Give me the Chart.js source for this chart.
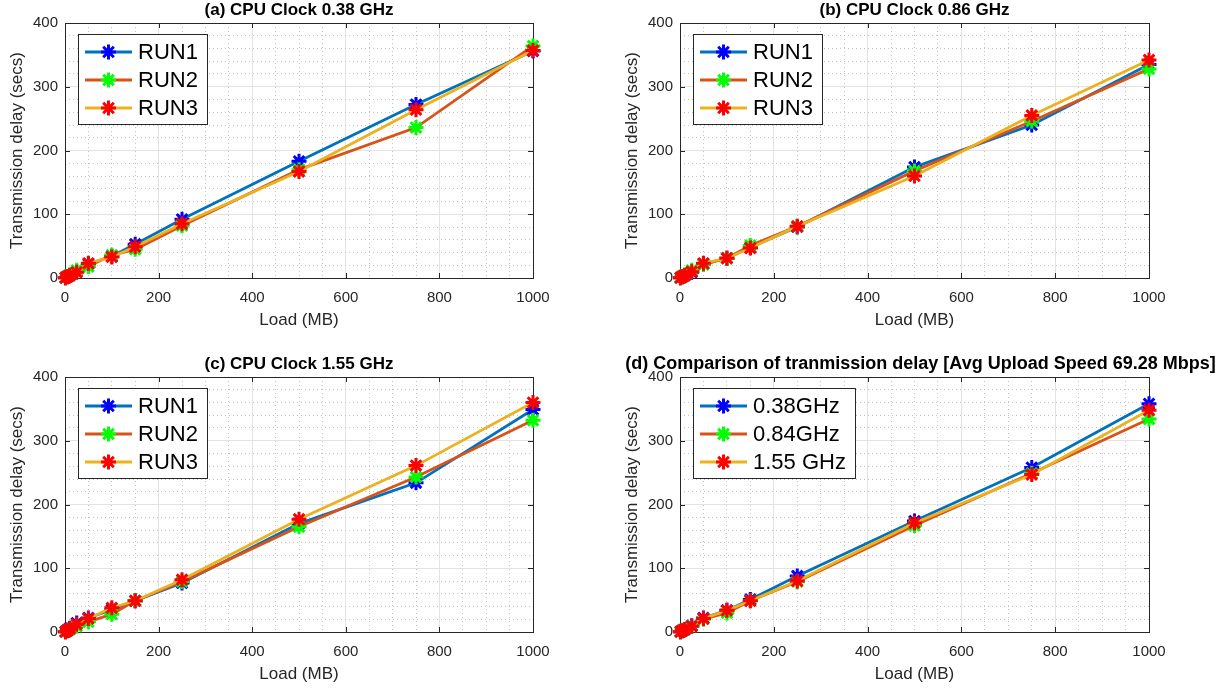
<!DOCTYPE html>
<html>
<head>
<meta charset="utf-8">
<title>Transmission delay</title>
<script src="https://cdn.jsdelivr.net/npm/chart.js@4.4.1/dist/chart.umd.min.js"></script>
<style>
  html, body { margin: 0; padding: 0; background: #fff; }
  body { width: 1227px; height: 688px; position: relative; overflow: hidden; }
  canvas { position: absolute; }
  #chart-a { left: 0;     top: 0; }
  #chart-b { left: 615px; top: 0; }
  #chart-c { left: 0;     top: 354px; }
  #chart-d { left: 615px; top: 354px; }
</style>
</head>
<body>
<canvas id="chart-a" width="612" height="334"></canvas>
<canvas id="chart-b" width="612" height="334"></canvas>
<canvas id="chart-c" width="612" height="334"></canvas>
<canvas id="chart-d" width="612" height="334"></canvas>
<script>
"use strict";

// ── Data ────────────────────────────────────────────────────────────────────
const LOAD_MB = [1, 5, 10, 25, 50, 100, 150, 250, 500, 750, 1000];

const RUN_LABELS   = ["RUN1", "RUN2", "RUN3"];
const CLOCK_LABELS = ["0.38GHz", "0.84GHz", "1.55 GHz"];

// (a) CPU Clock 0.38 GHz
const A_RUN1 = [0.5, 2, 4, 10, 22, 34, 53, 92, 183, 272, 356];
const A_RUN2 = [0.4, 2, 5, 12, 18, 36, 45, 82, 170, 236, 364];
const A_RUN3 = [0.4, 2, 4, 9, 23, 33, 49, 85, 167, 264, 357];

// (b) CPU Clock 0.86 GHz
const B_RUN1 = [0.5, 2, 4, 9, 22, 31, 48, 80, 174, 240, 335];
const B_RUN2 = [0.4, 2, 5, 12, 21, 31, 51, 81, 168, 246, 328];
const B_RUN3 = [0.4, 2, 4, 10, 23, 31, 47, 81, 160, 255, 342];

// (c) CPU Clock 1.55 GHz
const C_RUN1 = [0.5, 3, 6, 14, 22, 35, 49, 77, 170, 234, 349];
const C_RUN2 = [0.4, 2, 4, 9, 16, 28, 49, 79, 165, 243, 332];
const C_RUN3 = [0.4, 2, 5, 12, 21, 38, 49, 82, 177, 261, 360];

// (d) comparison of averages
const D_038 = [0.5, 2, 4, 10, 22, 34, 51, 88, 174, 258, 358];
const D_084 = [0.4, 2, 4, 9, 20, 30, 49, 79, 167, 249, 334];
const D_155 = [0.4, 2, 4, 9, 21, 34, 49, 80, 171, 247, 348];

const X_LABEL_STEP = 200;
const Y_LABEL_STEP = 100;

// ── Style ───────────────────────────────────────────────────────────────────
const FONT = '"Liberation Sans", Arial, Helvetica, sans-serif';
const LINE_COLORS   = ["#0072BD", "#D95319", "#EDB120"];
const MARKER_COLORS = ["#0000FF", "#00FF00", "#FF0000"];
const AXIS_COLOR  = "#262626";
const MAJOR_GRID  = "#e3e3e3";
const MINOR_GRID  = "#c4c4c4";

Chart.defaults.font.family = FONT;
Chart.defaults.color = AXIS_COLOR;

// ── MATLAB-ish axes box, title and legend ───────────────────────────────────
function drawStar(ctx, x, y, r, color, width) {
  ctx.save();
  ctx.strokeStyle = color;
  ctx.lineWidth = width;
  ctx.beginPath();
  for (let k = 0; k < 4; k++) {
    const a = k * Math.PI / 4;
    ctx.moveTo(x - r * Math.cos(a), y - r * Math.sin(a));
    ctx.lineTo(x + r * Math.cos(a), y + r * Math.sin(a));
  }
  ctx.stroke();
  ctx.restore();
}

const matlabAxes = {
  id: "matlabAxes",
  beforeDatasetsDraw(chart) {
    const { ctx, chartArea: ca, scales } = chart;
    ctx.save();
    ctx.strokeStyle = AXIS_COLOR;
    ctx.lineWidth = 1;
    ctx.strokeRect(Math.round(ca.left) + 0.5, Math.round(ca.top) + 0.5,
                   Math.round(ca.right - ca.left), Math.round(ca.bottom - ca.top));
    const tl = 5;
    ctx.beginPath();
    scales.x.ticks.forEach(t => {
      if (t.value % X_LABEL_STEP !== 0) return;
      const px = Math.round(scales.x.getPixelForValue(t.value)) + 0.5;
      ctx.moveTo(px, ca.bottom); ctx.lineTo(px, ca.bottom - tl);
      ctx.moveTo(px, ca.top);    ctx.lineTo(px, ca.top + tl);
    });
    scales.y.ticks.forEach(t => {
      if (t.value % Y_LABEL_STEP !== 0) return;
      const py = Math.round(scales.y.getPixelForValue(t.value)) + 0.5;
      ctx.moveTo(ca.left, py);  ctx.lineTo(ca.left + tl, py);
      ctx.moveTo(ca.right, py); ctx.lineTo(ca.right - tl, py);
    });
    ctx.stroke();
    ctx.restore();
  },
  afterDraw(chart, args, opts) {
    const { ctx, chartArea: ca } = chart;
    ctx.save();
    // title
    ctx.fillStyle = "#000";
    ctx.font = `bold ${opts.titleSize || 17}px ${FONT}`;
    ctx.textAlign = "center";
    ctx.textBaseline = "middle";
    ctx.fillText(opts.title, (ca.left + ca.right) / 2 + (opts.titleShift || 0), 10);

    // legend box, top-left inside the axes
    ctx.font = `22px ${FONT}`;
    const sets = chart.data.datasets;
    const textW = Math.max(...sets.map(d => ctx.measureText(d.label).width));
    const bx = Math.round(ca.left) + 13, by = Math.round(ca.top) + 11;
    const bw = Math.round(7 + 47 + 6 + textW + 9), bh = 90;
    ctx.fillStyle = "#fff";
    ctx.fillRect(bx, by, bw, bh);
    ctx.strokeStyle = AXIS_COLOR;
    ctx.lineWidth = 1;
    ctx.strokeRect(bx + 0.5, by + 0.5, bw, bh);
    sets.forEach((ds, i) => {
      const cy = by + 18 + i * 28;
      ctx.strokeStyle = ds.borderColor;
      ctx.lineWidth = ds.borderWidth;
      ctx.beginPath();
      ctx.moveTo(bx + 7, cy);
      ctx.lineTo(bx + 54, cy);
      ctx.stroke();
      drawStar(ctx, bx + 30.5, cy, ds.pointRadius, ds.pointBorderColor, ds.pointBorderWidth);
      ctx.fillStyle = "#000";
      ctx.textAlign = "left";
      ctx.textBaseline = "middle";
      ctx.fillText(ds.label, bx + 60, cy + 1);
    });
    ctx.restore();
  },
};

// ── Builders ────────────────────────────────────────────────────────────────
function makeSeries(labels, values) {
  return values.map((vals, i) => ({
    label: labels[i],
    data: LOAD_MB.map((x, k) => ({ x, y: vals[k] })),
    borderColor: LINE_COLORS[i],
    backgroundColor: LINE_COLORS[i],
    borderWidth: 2.8,
    pointStyle: "star",
    pointRadius: 7.5,
    pointHoverRadius: 7.5,
    pointBorderColor: MARKER_COLORS[i],
    pointBackgroundColor: MARKER_COLORS[i],
    pointBorderWidth: 3,
    tension: 0,
    fill: false,
    clip: false,
    order: values.length - i,   // later series drawn on top, like MATLAB
  }));
}

function isMajor(ctx, step) {
  return ctx.tick && ctx.tick.value % step === 0;
}

function makeChart(id, titleOpts, labels, values, padRight) {
  return new Chart(document.getElementById(id), {
    type: "line",
    data: { datasets: makeSeries(labels, values) },
    options: {
      responsive: false,
      animation: false,
      events: [],
      layout: { padding: { top: 23, right: padRight, bottom: 0, left: 0 } },
      scales: {
        x: {
          type: "linear",
          min: 0, max: 1000,
          afterFit: s => { s.height = 56; },
          ticks: {
            stepSize: 50,
            autoSkip: false,
            maxRotation: 0,
            padding: 11,
            color: AXIS_COLOR,
            font: { size: 15 },
            callback: v => (v % X_LABEL_STEP === 0 ? String(v) : ""),
          },
          grid: {
            drawTicks: false,
            lineWidth: 1,
            color: c => (isMajor(c, X_LABEL_STEP) ? MAJOR_GRID : MINOR_GRID),
          },
          border: {
            display: false,
            dash: c => (isMajor(c, X_LABEL_STEP) ? [] : [1, 3]),
          },
          title: {
            display: true, text: "Load (MB)", color: AXIS_COLOR,
            font: { size: 17 }, padding: { top: 0, bottom: 3 },
          },
        },
        y: {
          type: "linear",
          min: 0, max: 400,
          afterFit: s => { s.width = 65; },
          ticks: {
            stepSize: 20,
            autoSkip: false,
            padding: 7,
            color: AXIS_COLOR,
            font: { size: 15 },
            callback: v => (v % Y_LABEL_STEP === 0 ? String(v) : ""),
          },
          grid: {
            drawTicks: false,
            lineWidth: 1,
            color: c => (isMajor(c, Y_LABEL_STEP) ? MAJOR_GRID : MINOR_GRID),
          },
          border: {
            display: false,
            dash: c => (isMajor(c, Y_LABEL_STEP) ? [] : [1, 3]),
          },
          title: {
            display: true, text: "Transmission delay (secs)", color: AXIS_COLOR,
            font: { size: 17 }, padding: { top: 7, bottom: 0 },
          },
        },
      },
      plugins: {
        legend: { display: false },
        title: { display: false },
        tooltip: { enabled: false },
        matlabAxes: titleOpts,
      },
    },
    plugins: [matlabAxes],
  });
}

makeChart("chart-a", { title: "(a) CPU Clock 0.38 GHz" }, RUN_LABELS, [A_RUN1, A_RUN2, A_RUN3], 79);
makeChart("chart-b", { title: "(b) CPU Clock 0.86 GHz" }, RUN_LABELS, [B_RUN1, B_RUN2, B_RUN3], 78);
makeChart("chart-c", { title: "(c) CPU Clock 1.55 GHz" }, RUN_LABELS, [C_RUN1, C_RUN2, C_RUN3], 79);
makeChart("chart-d", {
  title: "(d) Comparison of tranmission delay [Avg Upload Speed 69.28 Mbps]",
  titleSize: 18, titleShift: 6,
}, CLOCK_LABELS, [D_038, D_084, D_155], 78);
</script>
</body>
</html>
